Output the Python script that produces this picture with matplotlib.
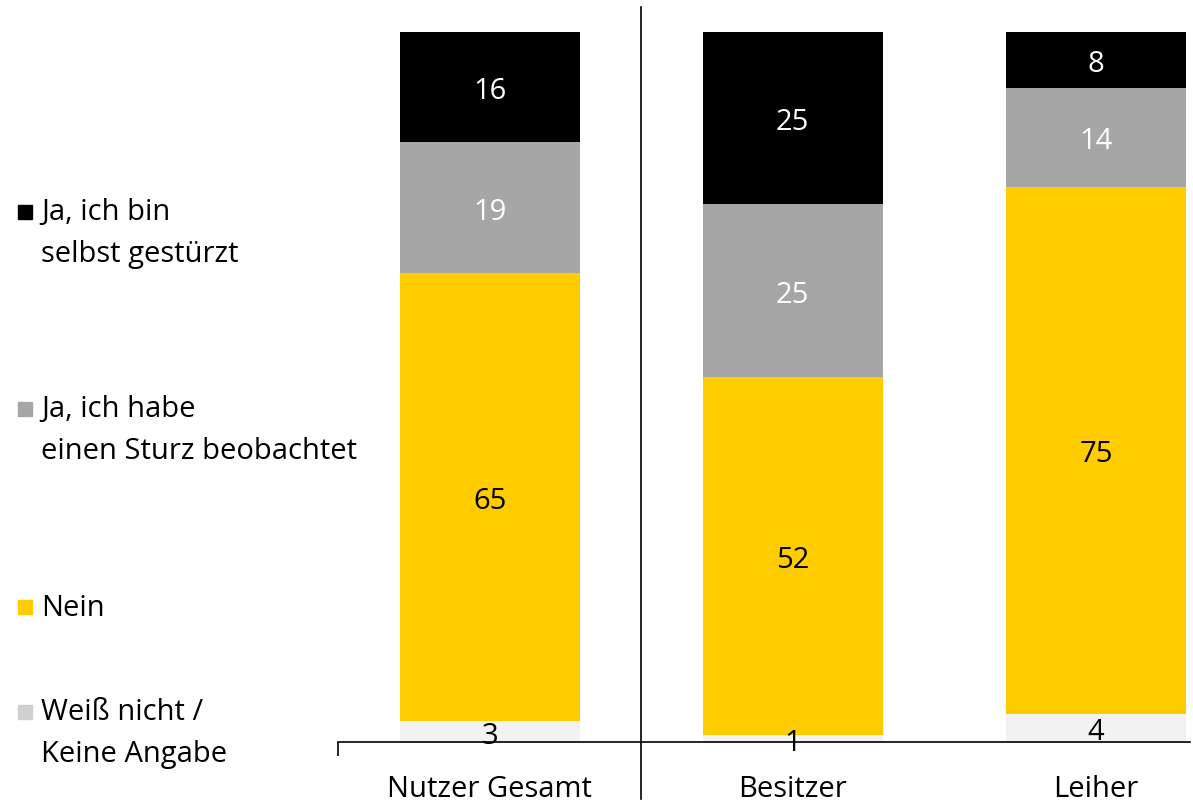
import matplotlib
matplotlib.use("Agg")
import matplotlib.pyplot as plt
from matplotlib.patches import Rectangle
from matplotlib.lines import Line2D
import numpy as np

plt.rcParams['font.family'] = ['Open Sans', 'DejaVu Sans']

# data
groups = ["Nutzer Gesamt", "Besitzer", "Leiher"]
series = ["Weiß nicht /\nKeine Angabe", "Nein",
          "Ja, ich habe\neinen Sturz beobachtet", "Ja, ich bin\nselbst gestürzt"]
weiss_nicht = [3, 1, 4]
nein = [65, 52, 75]
beobachtet = [19, 25, 14]
gestuerzt = [16, 25, 8]

colors = ["#f2f2f2", "#ffcc00", "#a6a6a6", "#000000"]
legend_colors = ["#d0d0d0", "#ffcc00", "#a6a6a6", "#000000"]
text_colors = ["black", "black", "white", "white"]

FS = 21
W, H = 1193, 803
fig = plt.figure(figsize=(W / 100, H / 100), dpi=100)
ax = fig.add_axes([338 / W, 60 / H, (1190 - 338) / W, (743 - 33) / H])

values = np.array([weiss_nicht, nein, beobachtet, gestuerzt], dtype=float)
totals = values.sum(axis=0)
shares = values / totals * 100

x = np.arange(len(groups))
bottom = np.zeros(len(groups))
for k in range(len(series)):
    ax.bar(x, shares[k], 0.594, bottom=bottom, color=colors[k], zorder=1)
    for i in range(len(groups)):
        ax.text(x[i], bottom[i] + shares[k][i] / 2 - 0.5, f"{int(values[k][i])}",
                ha="center", va="center", fontsize=FS, color=text_colors[k], zorder=3)
    bottom += shares[k]

ax.set_xlim(-0.5, 2.31)
ax.set_ylim(0, 100)
for s in ["top", "right", "left"]:
    ax.spines[s].set_visible(False)
ax.spines["bottom"].set_linewidth(1.2)
ax.spines["bottom"].set_zorder(2)
ax.set_yticks([])
ax.set_xticks([-0.5])
ax.set_xticklabels([""])
ax.tick_params(axis="x", length=10, width=1.2, direction="out")
for i, g in enumerate(groups):
    ax.text(x[i], -6.6, g, ha="center", va="center", fontsize=FS,
            transform=ax.transData, clip_on=False)

# separator line between total and sub groups
fig.add_artist(Line2D([641 / W, 641 / W], [1 - 8 / H, 1 - 800 / H],
                      color="black", lw=1.2, transform=fig.transFigure))

# legend on the left, one line of text at a time
legend_y = [213, 410, 608, 713]
for k in range(len(series) - 1, -1, -1):
    y0 = legend_y[len(series) - 1 - k]
    fig.add_artist(Rectangle((18 / W, 1 - (y0 + 7) / H), 14 / W, 14 / H,
                             color=legend_colors[k], transform=fig.transFigure))
    for j, line in enumerate(series[k].split("\n")):
        fig.text(41 / W, 1 - (y0 + 42 * j) / H, line, ha="left", va="center",
                 fontsize=FS)

fig.savefig("out.png", dpi=100)
